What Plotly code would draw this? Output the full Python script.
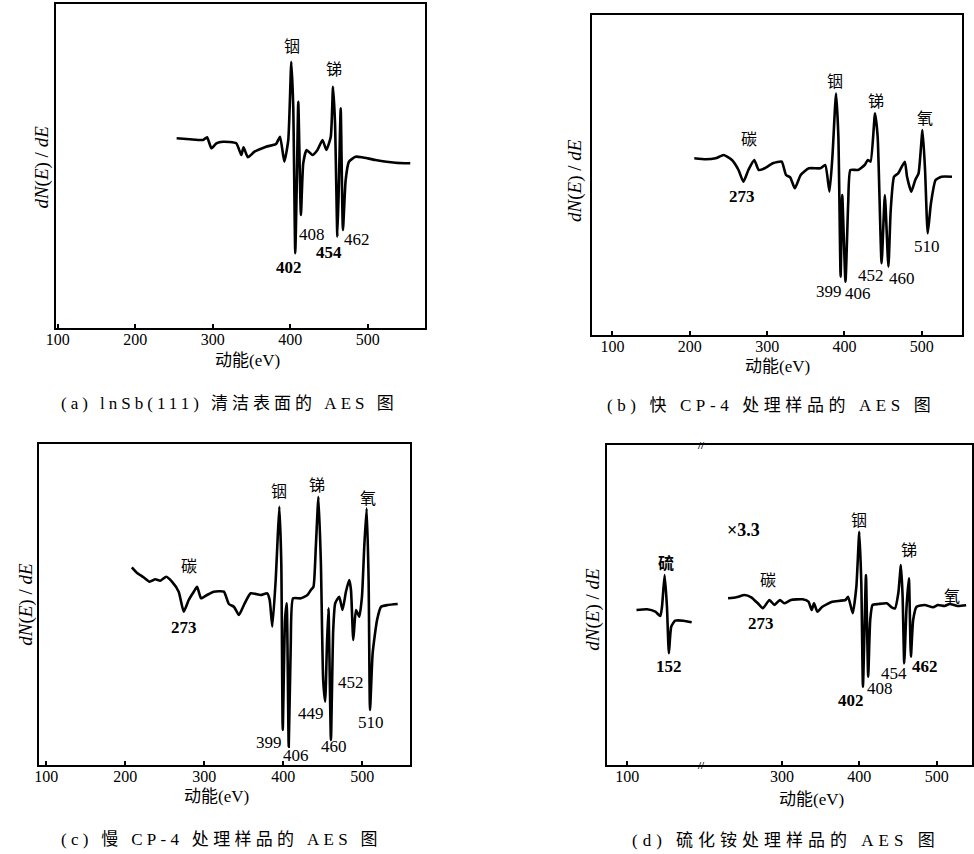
import plotly.graph_objects as go

# ---------------- data ----------------
# (a) InSb(111) clean surface
a_energy = [253.4, 270.5, 287.6, 292.7, 298.3, 304.7, 313.2, 330.3, 336.8, 339.7, 345.3, 353.8,
            368.8, 381.6, 386.8, 392.3, 397.4, 401.3, 403.8, 406.4, 408.6, 410.3, 413.7, 416.7,
            421.0, 428.6, 435.0, 441.5, 446.5, 452.2, 455.1, 457.7, 460.7, 462.8, 465.0, 467.9,
            471.4, 475.6, 484.2, 492.7, 509.9, 535.5, 554.7]
a_signal = [189.7, 188.7, 188.0, 190.7, 179.7, 184.7, 186.3, 184.7, 173.0, 180.7, 170.7, 176.3,
            181.3, 184.0, 191.3, 166.3, 188.0, 266.3, 221.0, 74.7, 154.7, 226.3, 113.0, 164.7,
            178.0, 173.0, 178.0, 188.0, 178.0, 191.3, 241.3, 204.7, 91.3, 148.0, 219.7, 98.0,
            148.0, 166.3, 171.3, 170.7, 168.0, 165.3, 164.7]

# (b) fast CP-4 treated
b_energy = [205.8, 220.6, 233.3, 243.9, 254.5, 263.0, 269.3, 275.7, 283.3, 289.2, 296.8, 307.4,
            318.8, 324.4, 329.8, 335.8, 343.4, 354.0, 368.8, 375.1, 380.6, 384.4, 389.1, 392.1,
            395.0, 397.1, 401.3, 404.8, 407.7, 417.5, 426.0, 430.2, 433.7, 439.5, 442.9, 448.0,
            452.2, 456.8, 459.8, 464.1, 469.5, 478.0, 480.9, 486.4, 491.5, 495.8, 500.9, 504.2,
            507.6, 511.8, 517.8, 525.4, 539.0]
b_signal = [176.7, 175.7, 176.7, 180.0, 175.0, 165.0, 153.3, 165.0, 175.0, 165.0, 166.7, 171.7,
            173.3, 160.0, 157.7, 146.7, 160.0, 166.7, 166.7, 170.0, 143.3, 178.3, 241.7, 198.3,
            58.3, 140.0, 53.3, 131.7, 165.0, 165.0, 170.0, 175.0, 173.3, 221.7, 198.3, 71.7,
            140.0, 68.3, 125.0, 158.3, 161.7, 173.3, 158.3, 143.3, 155.0, 161.7, 205.0, 165.0,
            101.7, 131.7, 155.0, 158.3, 158.3]

# (c) slow CP-4 treated
c_energy = [208.3, 214.7, 223.2, 230.8, 238.0, 244.4, 252.0, 259.1, 267.6, 274.0, 280.3, 286.7,
            290.9, 296.0, 303.6, 312.1, 324.8, 331.1, 337.5, 343.8, 350.2, 358.7, 371.4, 379.7,
            382.8, 386.1, 390.4, 392.4, 395.0, 397.5, 399.3, 402.2, 404.3, 406.9, 409.4, 412.4,
            422.2, 430.6, 434.9, 438.2, 441.2, 444.5, 447.6, 450.5, 453.0, 455.2, 457.2, 460.3,
            463.2, 465.7, 470.8, 475.0, 479.3, 483.5, 485.7, 488.6, 492.0, 496.2, 499.6, 502.5,
            505.5, 508.0, 509.8, 513.1, 518.7, 523.8, 532.2, 544.8]
c_signal = [197.7, 192.3, 187.7, 183.3, 185.7, 184.3, 188.3, 183.3, 173.3, 153.3, 165.0, 173.3,
            178.3, 166.7, 170.0, 173.3, 173.3, 161.0, 158.3, 150.0, 160.0, 171.7, 170.0, 171.7,
            165.0, 138.3, 185.0, 218.3, 258.3, 201.7, 35.0, 145.0, 161.7, 18.3, 118.3, 166.7,
            166.7, 170.0, 175.0, 178.3, 218.3, 268.3, 201.7, 85.0, 63.3, 118.3, 156.7, 25.0,
            135.0, 161.7, 168.3, 155.0, 173.3, 185.0, 175.0, 125.0, 155.0, 148.3, 168.3, 218.3,
            256.7, 185.0, 55.0, 111.7, 145.0, 158.3, 160.0, 161.0]

# (d) ammonium sulfide treated: sulfur segment (x3.3) and main segment
d_s_energy = [111.9, 125.6, 136.3, 142.7, 144.9, 148.3, 151.3, 153.8, 156.8, 161.9, 172.7, 183.3]
d_s_signal = [155.0, 155.7, 153.3, 149.0, 158.3, 190.0, 158.3, 111.7, 138.3, 144.3, 144.3, 142.7]
d_energy = [230.3, 241.0, 251.7, 260.3, 268.8, 275.3, 283.8, 290.2, 297.4, 303.0, 311.5, 326.5,
            334.2, 338.5, 341.4, 345.8, 352.2, 365.0, 382.1, 385.5, 391.5, 396.2, 400.0, 402.6,
            404.7, 406.8, 408.6, 411.5, 414.1, 417.1, 424.8, 435.5, 441.9, 446.2, 450.4, 453.8,
            456.0, 458.1, 461.1, 464.1, 466.7, 469.6, 474.0, 484.6, 495.3, 501.7, 510.3, 516.7,
            527.3, 538.1]
d_signal = [166.7, 167.7, 170.0, 167.7, 161.7, 156.7, 165.0, 160.0, 165.0, 161.7, 165.0, 165.7,
            163.3, 155.0, 161.7, 153.3, 158.3, 163.3, 165.0, 168.3, 151.7, 178.3, 233.3, 181.7,
            78.3, 138.3, 190.0, 88.3, 145.0, 160.0, 161.0, 161.7, 157.7, 156.7, 171.7, 200.0,
            168.3, 101.7, 158.3, 186.7, 108.3, 145.0, 158.3, 160.0, 157.7, 160.0, 159.0, 161.0,
            159.0, 159.7]

tick_vals_abc = [100, 200, 300, 400, 500]
tick_vals_d = [100, 300, 400, 500]

captions = ["(a) lnSb(111) 清洁表面的 AES 图",
            "(b) 快 CP-4 处理样品的 AES 图",
            "(c) 慢 CP-4 处理样品的 AES 图",
            "(d) 硫化铵处理样品的 AES 图"]

# ---------------- layout helpers ----------------
W, H = 974, 854
SERIF = "Liberation Serif, Noto Sans CJK SC"
CJK = "Noto Sans CJK SC, Liberation Serif"

def px(x):
    return x / W

def py(y):
    return 1 - y / H

panels = {
    # left, top, right, bottom (pixels), x range, y range
    1: dict(box=(46.7, 4, 420, 328), xr=[98.0, 573.5], yr=[0, 324], ticks=tick_vals_abc),
    2: dict(box=(589, 15, 964.3, 335), xr=[73.2, 552.5], yr=[0, 320], ticks=tick_vals_abc),
    3: dict(box=(29.3, 444, 405, 765), xr=[90.75, 560.4], yr=[0, 321], ticks=tick_vals_abc),
    4: dict(box=(604.3, 445, 974, 765), xr=[73.6, 545.7], yr=[0, 320], ticks=tick_vals_d),
}

fig = go.Figure()

line_style = dict(color="black", width=2.6, shape="spline", smoothing=0.5)
fig.add_trace(go.Scatter(x=a_energy, y=a_signal, mode="lines", line=line_style, xaxis="x", yaxis="y"))
fig.add_trace(go.Scatter(x=b_energy, y=b_signal, mode="lines", line=line_style, xaxis="x2", yaxis="y2"))
fig.add_trace(go.Scatter(x=c_energy, y=c_signal, mode="lines", line=line_style, xaxis="x3", yaxis="y3"))
fig.add_trace(go.Scatter(x=d_s_energy, y=d_s_signal, mode="lines", line=line_style, xaxis="x4", yaxis="y4"))
fig.add_trace(go.Scatter(x=d_energy, y=d_signal, mode="lines", line=line_style, xaxis="x4", yaxis="y4"))

layout = dict(width=W, height=H, margin=dict(l=0, r=0, t=0, b=0),
              paper_bgcolor="white", plot_bgcolor="white", showlegend=False)

for i, p in panels.items():
    l, t, r, b = p["box"]
    sfx = "" if i == 1 else str(i)
    layout["xaxis" + sfx] = dict(
        domain=[px(l), min(px(r), 1.0)], range=p["xr"], anchor="y" + sfx,
        showline=True, mirror=True, linecolor="black", linewidth=2,
        ticks="inside", ticklen=4, tickwidth=1.5, tickcolor="black",
        tickvals=p["ticks"], showgrid=False, zeroline=False, ticklabelstandoff=-4,
        tickfont=dict(family=SERIF, size=16, color="black"))
    layout["yaxis" + sfx] = dict(
        domain=[py(b), py(t)], range=p["yr"], anchor="x" + sfx,
        showline=True, mirror=True, linecolor="black", linewidth=2,
        ticks="", showticklabels=False, showgrid=False, zeroline=False)

fig.update_layout(**layout)

ann = []

def label(text, x, y, ax, size=17, bold=False, family=SERIF):
    sfx = "" if ax == 1 else str(ax)
    ann.append(dict(text=("<b>%s</b>" % text) if bold else text, x=x, y=y,
                    xref="x" + sfx, yref="y" + sfx, showarrow=False,
                    xanchor="center", yanchor="middle",
                    font=dict(family=family, size=size, color="black")))

# panel (a)
label("铟", 402.6, 283, 1, size=16, family=CJK)
label("锑", 456.4, 260, 1, size=16, family=CJK)
label("402", 398.7, 61, 1, bold=True)
label("408", 428.2, 94, 1)
label("454", 450.0, 76, 1, bold=True)
label("462", 485.9, 89, 1)
# panel (b)
label("碳", 276.1, 196.7, 2, size=16, family=CJK)
label("铟", 388.3, 255, 2, size=16, family=CJK)
label("锑", 441.2, 235, 2, size=16, family=CJK)
label("氧", 504.7, 218.3, 2, size=16, family=CJK)
label("273", 267.6, 139, 2, bold=True)
label("399", 379.8, 43.3, 2)
label("406", 417.9, 41.7, 2)
label("452", 434.8, 60, 2)
label("460", 475.0, 56.7, 2)
label("510", 506.8, 88.3, 2)
# panel (c)
label("碳", 280.3, 199.7, 3, size=16, family=CJK)
label("铟", 394.6, 274.7, 3, size=16, family=CJK)
label("锑", 443.2, 281.3, 3, size=16, family=CJK)
label("氧", 506.7, 268, 3, size=16, family=CJK)
label("273", 274.0, 138, 3, bold=True)
label("399", 381.9, 23, 3)
label("406", 416.6, 9.7, 3)
label("449", 434.9, 51.3, 3)
label("460", 464.4, 18.7, 3)
label("452", 485.7, 83, 3)
label("510", 511.0, 43, 3)
# panel (d)
label("×3.3", 250.0, 234.7, 4, size=18, bold=True)
label("硫", 149.6, 203, 4, size=16, family=CJK, bold=True)
label("碳", 282.0, 186.3, 4, size=16, family=CJK)
label("铟", 399.6, 246.3, 4, size=16, family=CJK)
label("锑", 463.7, 216.3, 4, size=16, family=CJK)
label("氧", 519.2, 169.7, 4, size=16, family=CJK)
label("152", 153.8, 98.7, 4, bold=True)
label("273", 273.5, 141.3, 4, bold=True)
label("402", 388.9, 64.7, 4, bold=True)
label("408", 427.3, 76.3, 4)
label("454", 444.5, 91.3, 4)
label("462", 485.0, 98.7, 4, bold=True)
# axis break marks in (d)
label("//", 194.9, 320, 4, size=11, bold=True)
label("//", 194.9, 0, 4, size=11, bold=True)

def paper_text(text, x, y, size, family, angle=0):
    ann.append(dict(text=text, x=px(x), y=py(y), xref="paper", yref="paper",
                    showarrow=False, textangle=angle, xanchor="center", yanchor="middle",
                    font=dict(family=family, size=size, color="black")))

ytitle = "<i>dN</i>(<i>E</i>) / <i>dE</i>"
paper_text(ytitle, 32, 167, 19, SERIF, -90)
paper_text(ytitle, 572, 180, 19, SERIF, -90)
paper_text(ytitle, 16, 604, 19, SERIF, -90)
paper_text(ytitle, 590, 609, 19, SERIF, -90)

paper_text("动能(eV)", 240, 360, 17, SERIF)
paper_text("动能(eV)", 777, 367, 17, SERIF)
paper_text("动能(eV)", 209, 796, 17, SERIF)
paper_text("动能(eV)", 812, 799, 17, SERIF)

def spaced(text, ls):
    return '<span style="letter-spacing:%spx">%s</span>' % (ls, text)

paper_text(spaced(captions[0], 4), 222, 403, 17, SERIF)
paper_text(spaced(captions[1], 4.6), 770, 405, 17, SERIF)
paper_text(spaced(captions[2], 4.3), 214, 839, 17, SERIF)
paper_text(spaced(captions[3], 5), 786, 840, 17, SERIF)

fig.update_layout(annotations=ann)

fig.write_html("out.html", config={"displayModeBar": False},
               post_script="document.body.style.margin='0';document.body.style.overflow='hidden';")
